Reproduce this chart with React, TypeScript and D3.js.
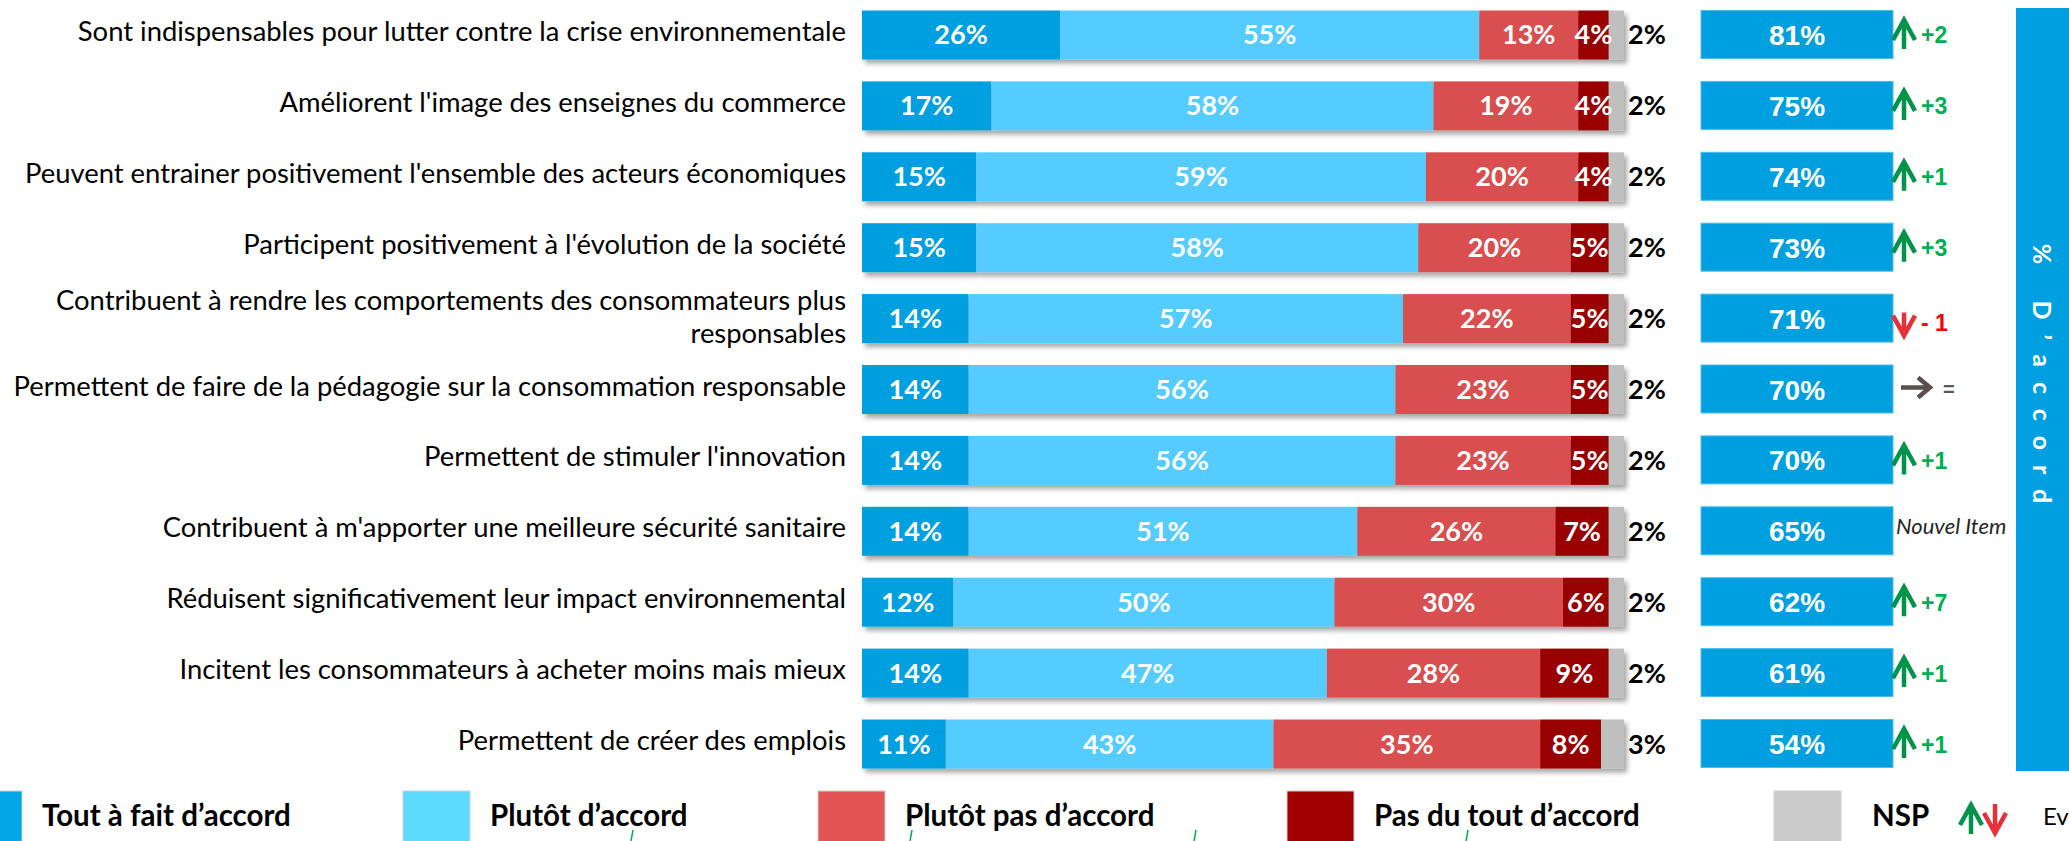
import React from 'react';
import * as d3 from 'd3';

// libellés des items
const items = [
  ["Sont indispensables pour lutter contre la crise environnementale"],
  ["Améliorent l'image des enseignes du commerce"],
  ["Peuvent entrainer positivement l'ensemble des acteurs économiques"],
  ["Participent positivement à l'évolution de la société"],
  ["Contribuent à rendre les comportements des consommateurs plus", "responsables"],
  ["Permettent de faire de la pédagogie sur la consommation responsable"],
  ["Permettent de stimuler l'innovation"],
  ["Contribuent à m'apporter une meilleure sécurité sanitaire"],
  ["Réduisent significativement leur impact environnemental"],
  ["Incitent les consommateurs à acheter moins mais mieux"],
  ["Permettent de créer des emplois"],
];

// valeurs (%)
const toutAFait = [26, 17, 15, 15, 14, 14, 14, 14, 12, 14, 11];
const plutot = [55, 58, 59, 58, 57, 56, 56, 51, 50, 47, 43];
const plutotPas = [13, 19, 20, 20, 22, 23, 23, 26, 30, 28, 35];
const pasDuTout = [4, 4, 4, 5, 5, 5, 5, 7, 6, 9, 8];
const nsp = [2, 2, 2, 2, 2, 2, 2, 2, 2, 2, 3];
const totalAccord = [81, 75, 74, 73, 71, 70, 70, 65, 62, 61, 54];
// évolution (null = nouvel item)
const evolution = [2, 3, 1, 3, -1, 0, 1, null, 7, 1, 1];

const keys = ['tout', 'plutot', 'plutotPas', 'pasDuTout', 'nsp'];
const legendLabels = ['Tout à fait d’accord', 'Plutôt d’accord', 'Plutôt pas d’accord', 'Pas du tout d’accord', 'NSP'];
const barColors = ['#00A0E0', '#55CCFF', '#D94F4F', '#990000', '#BFBFBF'];
const legendColors = ['#00A6E6', '#5CDBFF', '#E35555', '#A00000', '#CACACA'];

const W = 2069;
const H = 841;
const legendX = [-45, 403, 818, 1287, 1774]; // position des carrés de légende

const App = () => {
  const rows = items.map((_, i) => ({
    tout: toutAFait[i], plutot: plutot[i], plutotPas: plutotPas[i], pasDuTout: pasDuTout[i], nsp: nsp[i],
  }));
  const series = d3.stack<any>().keys(keys)(rows);

  const x = d3.scaleLinear().domain([0, 100]).range([862, 1624]);
  const y = d3.scaleBand<number>().domain(d3.range(items.length)).range([10.5, 768.5]).paddingInner(0.309).paddingOuter(0);
  const bh = y.bandwidth();
  const cy = (i: number) => (y(i) as number) + bh / 2;

  const green = '#00934A';
  const greenTxt = '#00B050';

  const upArrow = (ax: number, top: number, bot: number, col: string) => (
    <path d={`M${ax},${bot} L${ax},${top + 2} M${ax - 11},${top + 20} L${ax},${top} L${ax + 11},${top + 20}`}
      fill="none" stroke={col} strokeWidth={4.5} />
  );
  const downArrow = (ax: number, top: number, tip: number, col: string) => (
    <path d={`M${ax},${top} L${ax},${tip - 2} M${ax - 11},${tip - 20} L${ax},${tip} L${ax + 11},${tip - 20}`}
      fill="none" stroke={col} strokeWidth={4.5} />
  );

  return (
    <svg width={W} height={H} style={{ position: 'absolute', left: 0, top: 0, display: 'block', background: '#fff' }}>
      <defs>
        <filter id="ombre" x="-5%" y="-30%" width="115%" height="180%">
          <feDropShadow dx={3} dy={4} stdDeviation={2.5} floodColor="#000" floodOpacity={0.35} />
        </filter>
      </defs>

      {/* libellés */}
      {items.map((lines, i) => (
        <text key={'l' + i} x={846} textAnchor="end" fontFamily="Lato, sans-serif" fontSize={27.4} fill="#000">
          {lines.map((t, j) => (
            <tspan key={j} x={846} y={lines.length === 1 ? cy(i) + 6 : cy(i) - 9 + j * 33}>{t}</tspan>
          ))}
        </text>
      ))}

      {/* barres empilées */}
      {items.map((_, i) => (
        <g key={'b' + i} filter="url(#ombre)">
          {series.map((s, k) => (
            <rect key={k} x={x(s[i][0])} y={y(i)} width={x(s[i][1]) - x(s[i][0])} height={bh} fill={barColors[k]} />
          ))}
        </g>
      ))}
      {items.map((_, i) => (
        <g key={'t' + i} fontFamily="Lato, sans-serif" fontWeight="bold" fontSize={27}>
          {series.map((s, k) => {
            const v = s[i][1] - s[i][0];
            if (k === keys.length - 1) {
              return <text key={k} x={x(s[i][1]) + 4} y={cy(i) + 9.5} fill="#000">{v}%</text>;
            }
            return (
              <text key={k} x={(x(s[i][0]) + x(s[i][1])) / 2} y={cy(i) + 9.5} textAnchor="middle" fill="#fff">{v}%</text>
            );
          })}
        </g>
      ))}

      {/* total d'accord */}
      {totalAccord.map((v, i) => (
        <g key={'a' + i}>
          <rect x={1701} y={y(i)} width={192} height={bh - 1} fill="#00A0E0" stroke="#4DBDEB" strokeWidth={1} />
          <text x={1797} y={cy(i) + 10} textAnchor="middle" fill="#fff" fontFamily="'Liberation Sans', Arial, sans-serif"
            fontWeight="bold" fontSize={28}>{v}%</text>
        </g>
      ))}

      {/* évolutions */}
      {evolution.map((e, i) => {
        const c = cy(i);
        if (e === null) {
          return <text key={'e' + i} x={1896} y={c + 3} fontFamily="Lato, sans-serif" fontStyle="italic" fontSize={22} fill="#262626">Nouvel Item</text>;
        }
        if (e === 0) {
          return (
            <g key={'e' + i}>
              <path d={`M1901,${c - 2} L1930,${c - 2} M1918,${c - 12} L1930,${c - 2} L1918,${c + 8}`} fill="none" stroke="#594F4F" strokeWidth={4.5} />
              <text x={1943} y={c + 6} fontFamily="'Liberation Sans', Arial, sans-serif" fontWeight="bold" fontSize={20} fill="#595959">=</text>
            </g>
          );
        }
        if (e < 0) {
          return (
            <g key={'e' + i}>
              {downArrow(1904, c - 6, c + 17, '#E8303A')}
              <text x={1921} y={c + 12.5} fontFamily="'Liberation Sans', Arial, sans-serif" fontWeight="bold" fontSize={23} fill="#FF0000">- {Math.abs(e)}</text>
            </g>
          );
        }
        return (
          <g key={'e' + i}>
            {upArrow(1904, c - 15, c + 14, green)}
            <text x={1921} y={c + 8.5} fontFamily="'Liberation Sans', Arial, sans-serif" fontWeight="bold" fontSize={23} fill={greenTxt}>+{e}</text>
          </g>
        );
      })}

      {/* bandeau vertical */}
      <rect x={2016} y={8} width={60} height={763} fill="#00A0E0" />
      <text transform="translate(2033,381) rotate(90)" textAnchor="middle" fill="#fff" fontFamily="Lato, sans-serif"
        fontWeight="bold" fontSize={25} letterSpacing={15}>% D’accord</text>

      {/* légende */}
      {legendLabels.map((t, k) => (
        <g key={'g' + k}>
          <rect x={legendX[k]} y={791} width={67} height={60} fill={legendColors[k]} stroke="#d0d0d0" strokeWidth={1} />
          <text x={legendX[k] + 67 + (k === 4 ? 31 : 20)} y={826} fontFamily="Lato, sans-serif" fontWeight="bold" fontSize={29.5} fill="#000">{t}</text>
        </g>
      ))}
      {upArrow(1971, 805, 834, green)}
      {downArrow(1995, 804, 833, '#E8303A')}
      <text x={2043} y={825} fontFamily="Lato, sans-serif" fontSize={24} fill="#000">Evolution</text>

      {/* petits traits verts */}
      {[631, 910, 1194, 1466].map((px, k) => (
        <line key={'v' + k} x1={px} y1={841} x2={px + 2} y2={830} stroke={greenTxt} strokeWidth={1.5} />
      ))}
    </svg>
  );
};

export default App;
